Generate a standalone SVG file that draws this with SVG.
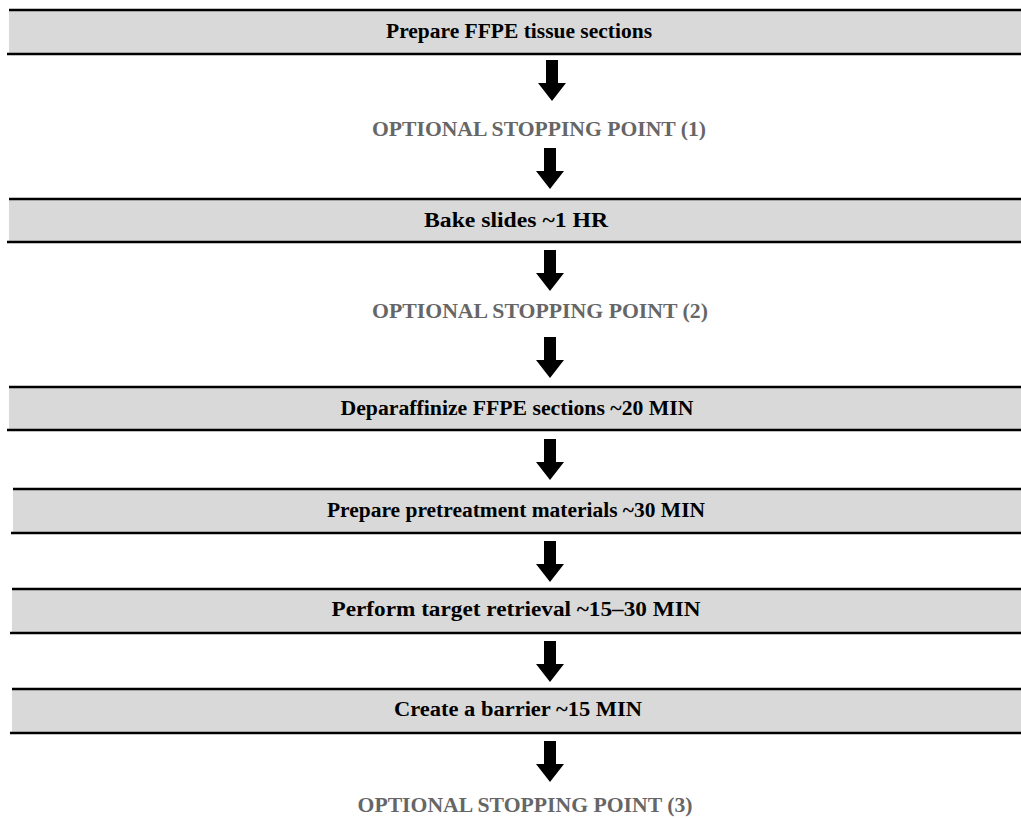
<svg xmlns="http://www.w3.org/2000/svg" width="1021" height="818" viewBox="0 0 1021 818">
<style>
.box{fill:#d9d9d9}
.ln{stroke:#000;stroke-width:2.5}
.t{font-family:"Liberation Serif","Times New Roman",serif;font-weight:bold;font-size:20px;fill:#000;text-anchor:middle}
.o{font-family:"Liberation Serif","Times New Roman",serif;font-weight:bold;font-size:22px;fill:#666;text-anchor:middle}
.ar{fill:#000}
</style>
<defs>
<path id="arr" d="M-6,0 H6 V23 H14 L0,41 L-14,23 H-6 Z"/>
</defs>
<g id="n1"><rect class="box" x="9" y="10" width="1012" height="44"/><line class="ln" x1="9" y1="10" x2="1021" y2="10"/><line class="ln" x1="7" y1="54" x2="1021" y2="54"/><text class="t" x="519" y="38" textLength="266" lengthAdjust="spacingAndGlyphs">Prepare FFPE tissue sections</text></g>
<g id="s1"><text class="o" x="539" y="136" textLength="334" lengthAdjust="spacingAndGlyphs">OPTIONAL STOPPING POINT (1)</text></g>
<g id="n2"><rect class="box" x="9" y="199" width="1012" height="43"/><line class="ln" x1="9" y1="199" x2="1021" y2="199"/><line class="ln" x1="7" y1="242" x2="1021" y2="242"/><text class="t" x="516" y="227" textLength="184" lengthAdjust="spacingAndGlyphs">Bake slides ~1 HR</text></g>
<g id="s2"><text class="o" x="540" y="318" textLength="336" lengthAdjust="spacingAndGlyphs">OPTIONAL STOPPING POINT (2)</text></g>
<g id="n3"><rect class="box" x="9" y="387" width="1012" height="43"/><line class="ln" x1="9" y1="387" x2="1021" y2="387"/><line class="ln" x1="7" y1="430" x2="1021" y2="430"/><text class="t" x="517" y="415" textLength="353" lengthAdjust="spacingAndGlyphs">Deparaffinize FFPE sections ~20 MIN</text></g>
<g id="n4"><rect class="box" x="13" y="489" width="1008" height="44"/><line class="ln" x1="13" y1="489" x2="1021" y2="489"/><line class="ln" x1="11" y1="533" x2="1021" y2="533"/><text class="t" x="516" y="517" textLength="378" lengthAdjust="spacingAndGlyphs">Prepare pretreatment materials ~30 MIN</text></g>
<g id="n5"><rect class="box" x="12" y="589" width="1009" height="44"/><line class="ln" x1="12" y1="589" x2="1021" y2="589"/><line class="ln" x1="10" y1="633" x2="1021" y2="633"/><text class="t" x="516" y="616" textLength="369" lengthAdjust="spacingAndGlyphs">Perform target retrieval ~15–30 MIN</text></g>
<g id="n6"><rect class="box" x="12" y="689" width="1009" height="44"/><line class="ln" x1="12" y1="689" x2="1021" y2="689"/><line class="ln" x1="10" y1="733" x2="1021" y2="733"/><text class="t" x="518" y="716" textLength="248" lengthAdjust="spacingAndGlyphs">Create a barrier ~15 MIN</text></g>
<g id="s3"><text class="o" x="525" y="812" textLength="335" lengthAdjust="spacingAndGlyphs">OPTIONAL STOPPING POINT (3)</text></g>
<g id="connectors">
<use href="#arr" class="ar" x="552" y="60"/>
<use href="#arr" class="ar" x="550" y="148"/>
<use href="#arr" class="ar" x="550" y="250"/>
<use href="#arr" class="ar" x="550" y="337"/>
<use href="#arr" class="ar" x="550" y="439"/>
<use href="#arr" class="ar" x="550" y="541"/>
<use href="#arr" class="ar" x="550" y="641"/>
<use href="#arr" class="ar" x="550" y="741"/>
</g>
</svg>
